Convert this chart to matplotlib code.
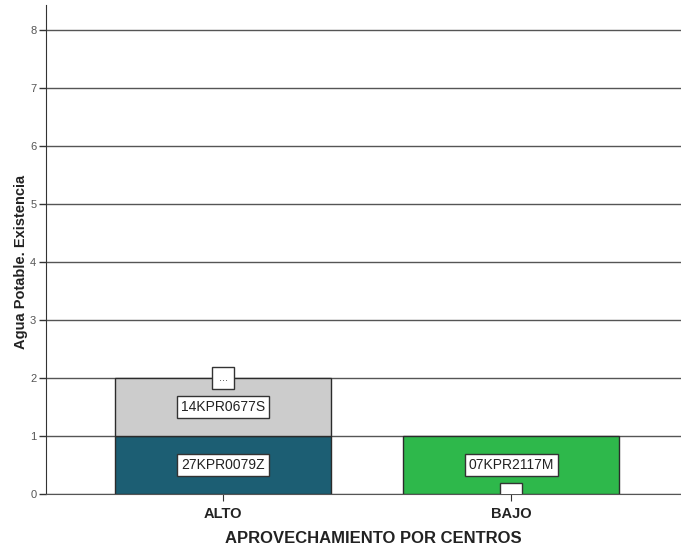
import numpy as np
import matplotlib.pyplot as plt

plt.rcParams['font.family'] = ['Liberation Sans', 'DejaVu Sans']

# Data
categories = ['ALTO', 'BAJO']
seg_names = [['27KPR0079Z', '14KPR0677S', '...'],
             ['   ', '07KPR2117M']]
seg_values = [[1, 1, 0],
              [0, 1]]
seg_colors = [['#1c5e73', '#cccccc', '#cccccc'],
              ['#2eb84b', '#2eb84b']]

fig = plt.figure(figsize=(6.81, 5.5), dpi=100)
ax = fig.add_axes([46 / 681, 56 / 550, 1 - 46 / 681, 489 / 550])

x = np.arange(len(categories))
width = 0.75

for i, cat in enumerate(categories):
    bottom = 0
    for name, val, col in zip(seg_names[i], seg_values[i], seg_colors[i]):
        if val > 0:
            ax.bar(x[i], val, width=width, bottom=bottom, color=col,
                   edgecolor='#2b2b2b', linewidth=1, zorder=3)
            ax.text(x[i], bottom + val / 2, name, ha='center', va='center',
                    fontsize=10, color='#222222', zorder=5,
                    bbox=dict(boxstyle='square,pad=0.28', fc='white', ec='#333333', lw=1))
        else:
            # zero-height segment: small label box
            ax.text(x[i], bottom, name, ha='center', va='center',
                    fontsize=8, color='#444444', zorder=5, clip_on=True,
                    bbox=dict(boxstyle='square,pad=0.55', fc='white', ec='#333333', lw=1))
        bottom += val

ax.set_xlim(-0.615, 1.59)
ax.set_ylim(0, 8.43)
ax.set_yticks(range(0, 9))
ax.set_xticks(x)
ax.set_xticklabels(categories, fontsize=10.5, fontweight='bold', color='#222222')
ax.tick_params(axis='y', labelsize=8, labelcolor='#555555', color='#333333',
               length=5, width=1, pad=2)
ax.tick_params(axis='x', length=5, color='#333333', pad=4)
ax.yaxis.grid(True, color='#555555', linewidth=1, zorder=0)
ax.set_axisbelow(True)

for s in ['top', 'right']:
    ax.spines[s].set_visible(False)
ax.spines['left'].set_color('#333333')
ax.spines['bottom'].set_color('#555555')

ax.set_ylabel('Agua Potable. Existencia', fontsize=10.5, fontweight='bold', color='#222222')
ax.yaxis.set_label_coords(-0.028, 0.474)
ax.set_xlabel('APROVECHAMIENTO POR CENTROS', fontsize=12, fontweight='bold',
              color='#222222')
ax.xaxis.set_label_coords(0.515, -0.075)

fig.savefig('out.png', dpi=100)
